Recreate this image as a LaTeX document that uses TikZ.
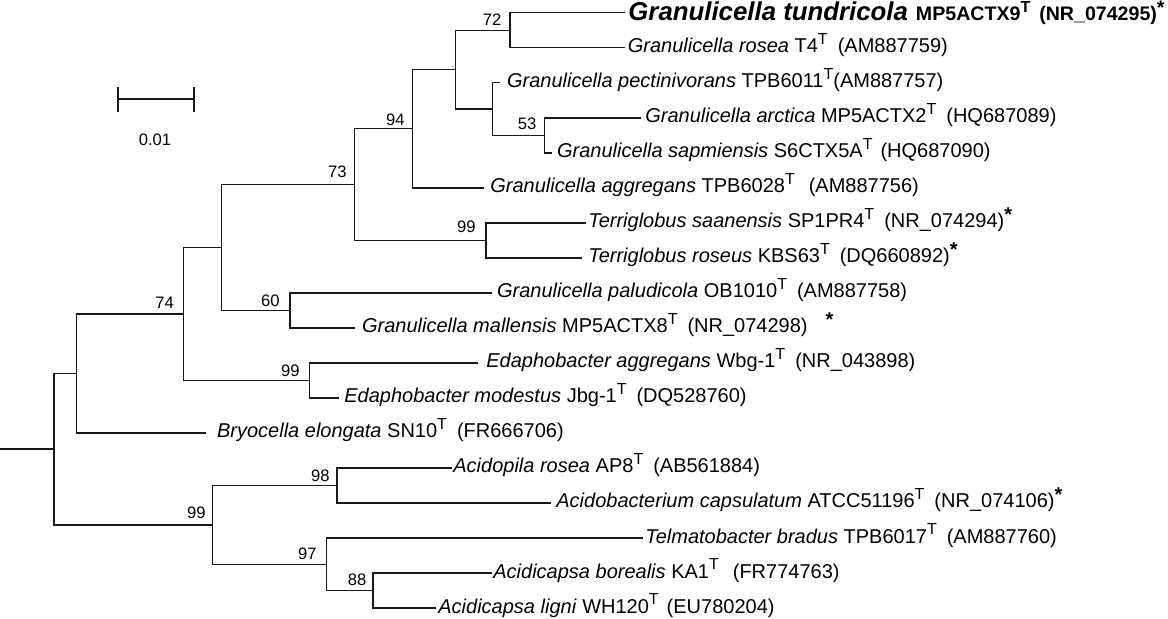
\documentclass[tikz,border=0pt]{standalone}
\usepackage{fontspec}
\setmainfont{Liberation Sans}
\newcommand\sT{\raisebox{0.42em}{\fontsize{8}{8}\selectfont T}}
\newcommand\astk{\raisebox{0.3em}{\textbf{*}}}
\begin{document}
\begin{tikzpicture}[x=0.5pt,y=-0.5pt,
  br/.style={draw=black!90,line width=0.7pt,line join=miter},
  lf/.style={anchor=base west,inner sep=0pt,font=\fontsize{10}{11}\selectfont},
  bs/.style={anchor=base east,inner sep=0pt,font=\fontsize{8.3}{9}\selectfont},
  sbl/.style={anchor=base,inner sep=0pt,font=\fontsize{8.3}{9}\selectfont}]
\path[use as bounding box] (0,0) rectangle (1168,618);
% internal nodes
\coordinate (rstub) at (0,449.1);
\coordinate (root) at (54,449.1);
\coordinate (nB1) at (76.7,373.4);
\coordinate (n74) at (183.7,313.9);
\coordinate (nG) at (221.7,247.4);
\coordinate (n73) at (354.3,184.5);
\coordinate (n94) at (412.3,128.7);
\coordinate (nA) at (455.7,69.6);
\coordinate (n72) at (510,30.2);
\coordinate (nB) at (492.7,109);
\coordinate (n53) at (544.3,135.3);
\coordinate (n99T) at (486,240.3);
\coordinate (n60) at (290,310.4);
\coordinate (n99E) at (309.3,380.4);
\coordinate (n99A) at (212.7,524.8);
\coordinate (n98) at (337,485.4);
\coordinate (n97) at (326.7,564.2);
\coordinate (n88) at (373,590.5);
% leaf tips
\coordinate (t1) at (625,12.7);
\coordinate (t2) at (625,47.7);
\coordinate (t3) at (500,82.7);
\coordinate (t4) at (641,117.8);
\coordinate (t5) at (551.7,152.8);
\coordinate (t6) at (484,187.8);
\coordinate (t7) at (586,222.8);
\coordinate (t8) at (582,257.8);
\coordinate (t9) at (491.7,292.9);
\coordinate (t10) at (355,327.9);
\coordinate (t11) at (478,362.9);
\coordinate (t12) at (339,397.9);
\coordinate (t13) at (206,432.9);
\coordinate (t14) at (452,467.9);
\coordinate (t15) at (551,502.9);
\coordinate (t16) at (643,538);
\coordinate (t17) at (492,573);
\coordinate (t18) at (436,608);
% branches
\draw[br] (rstub) -- (root);
\draw[br] (root) |- (nB1);
\draw[br] (root) |- (n99A);
\draw[br] (nB1) |- (n74);
\draw[br] (nB1) |- (t13);
\draw[br] (n74) |- (nG);
\draw[br] (n74) |- (n99E);
\draw[br] (nG) |- (n73);
\draw[br] (nG) |- (n60);
\draw[br] (n73) |- (n94);
\draw[br] (n73) |- (n99T);
\draw[br] (n94) |- (nA);
\draw[br] (n94) |- (t6);
\draw[br] (nA) |- (n72);
\draw[br] (nA) |- (nB);
\draw[br] (n72) |- (t1);
\draw[br] (n72) |- (t2);
\draw[br] (nB) |- (t3);
\draw[br] (nB) |- (n53);
\draw[br] (n53) |- (t4);
\draw[br] (n53) |- (t5);
\draw[br] (n99T) |- (t7);
\draw[br] (n99T) |- (t8);
\draw[br] (n60) |- (t9);
\draw[br] (n60) |- (t10);
\draw[br] (n99E) |- (t11);
\draw[br] (n99E) |- (t12);
\draw[br] (n99A) |- (n98);
\draw[br] (n99A) |- (n97);
\draw[br] (n98) |- (t14);
\draw[br] (n98) |- (t15);
\draw[br] (n97) |- (t16);
\draw[br] (n97) |- (n88);
\draw[br] (n88) |- (t17);
\draw[br] (n88) |- (t18);
% leaf labels
\node[lf] (l1) at (628,20.7) {{\fontsize{12.9}{14}\selectfont\bfseries\itshape Granulicella tundricola}\hspace{4pt}{\fontsize{9.8}{11}\selectfont\bfseries MP5ACTX9\sT\hspace{4.5pt}(NR\_074295)\astk}};
\node[lf] (l2) at (627.5,52.7) {\textit{Granulicella rosea} T4\sT\hspace{5pt}(AM887759)};
\node[lf] (l3) at (506.7,87.7) {\textit{Granulicella pectinivorans} TPB6011\sT(AM887757)};
\node[lf] (l4) at (645,122.8) {\textit{Granulicella arctica} MP5ACTX2\sT\hspace{5pt}(HQ687089)};
\node[lf] (l5) at (556.7,157.8) {\textit{Granulicella sapmiensis} S6CTX5A\sT\hspace{4pt}(HQ687090)};
\node[lf] (l6) at (490,192.8) {\textit{Granulicella aggregans} TPB6028\sT\hspace{7pt}(AM887756)};
\node[lf] (l7) at (588,227.8) {\textit{Terriglobus saanensis} SP1PR4\sT\hspace{5pt}(NR\_074294)\astk};
\node[lf] (l8) at (588,262.8) {\textit{Terriglobus roseus} KBS63\sT\hspace{5pt}(DQ660892)\astk};
\node[lf] (l9) at (496.7,297.9) {\textit{Granulicella paludicola} OB1010\sT\hspace{5pt}(AM887758)};
\node[lf] (l10) at (361.7,332.9) {\textit{Granulicella mallensis} MP5ACTX8\sT\hspace{5pt}(NR\_074298)\hspace{9pt}\astk};
\node[lf] (l11) at (486,367.9) {\textit{Edaphobacter aggregans} Wbg-1\sT\hspace{5pt}(NR\_043898)};
\node[lf] (l12) at (344,402.9) {\textit{Edaphobacter modestus} Jbg-1\sT\hspace{5pt}(DQ528760)};
\node[lf] (l13) at (216.7,437.9) {\textit{Bryocella elongata} SN10\sT\hspace{5pt}(FR666706)};
\node[lf] (l14) at (453,472.9) {\textit{Acidopila rosea} AP8\sT\hspace{5pt}(AB561884)};
\node[lf] (l15) at (556,507.9) {\textit{Acidobacterium capsulatum} ATCC51196\sT\hspace{5pt}(NR\_074106)\astk};
\node[lf] (l16) at (645,543) {\textit{Telmatobacter bradus} TPB6017\sT\hspace{5pt}(AM887760)};
\node[lf] (l17) at (493,578) {\textit{Acidicapsa borealis} KA1\sT\hspace{7pt}(FR774763)};
\node[lf] (l18) at (438,613) {\textit{Acidicapsa ligni} WH120\sT\hspace{4pt}(EU780204)};
% bootstrap values
\node[bs] (b72) at (501.7,25) {72};
\node[bs] (b94) at (405,125.3) {94};
\node[bs] (b73) at (347,177.3) {73};
\node[bs] (b53) at (536.7,129) {53};
\node[bs] (b99T) at (476,232.3) {99};
\node[bs] (b60) at (280,306.5) {60};
\node[bs] (b74) at (174.3,308.3) {74};
\node[bs] (b99E) at (300,376.7) {99};
\node[bs] (b99A) at (206,518) {99};
\node[bs] (b98) at (330,481.7) {98};
\node[bs] (b97) at (317,559) {97};
\node[bs] (b88) at (366.7,585) {88};
% scale bar
\coordinate (sbL) at (118,99);
\coordinate (sbR) at (194,99);
\draw[br] (sbL) -- (sbR);
\draw[br] ([yshift=-6.7]sbL) -- ([yshift=6]sbL);
\draw[br] ([yshift=-6.7]sbR) -- ([yshift=6]sbR);
\node[sbl] (sbt) at (155,145) {0.01};
\end{tikzpicture}
\end{document}
